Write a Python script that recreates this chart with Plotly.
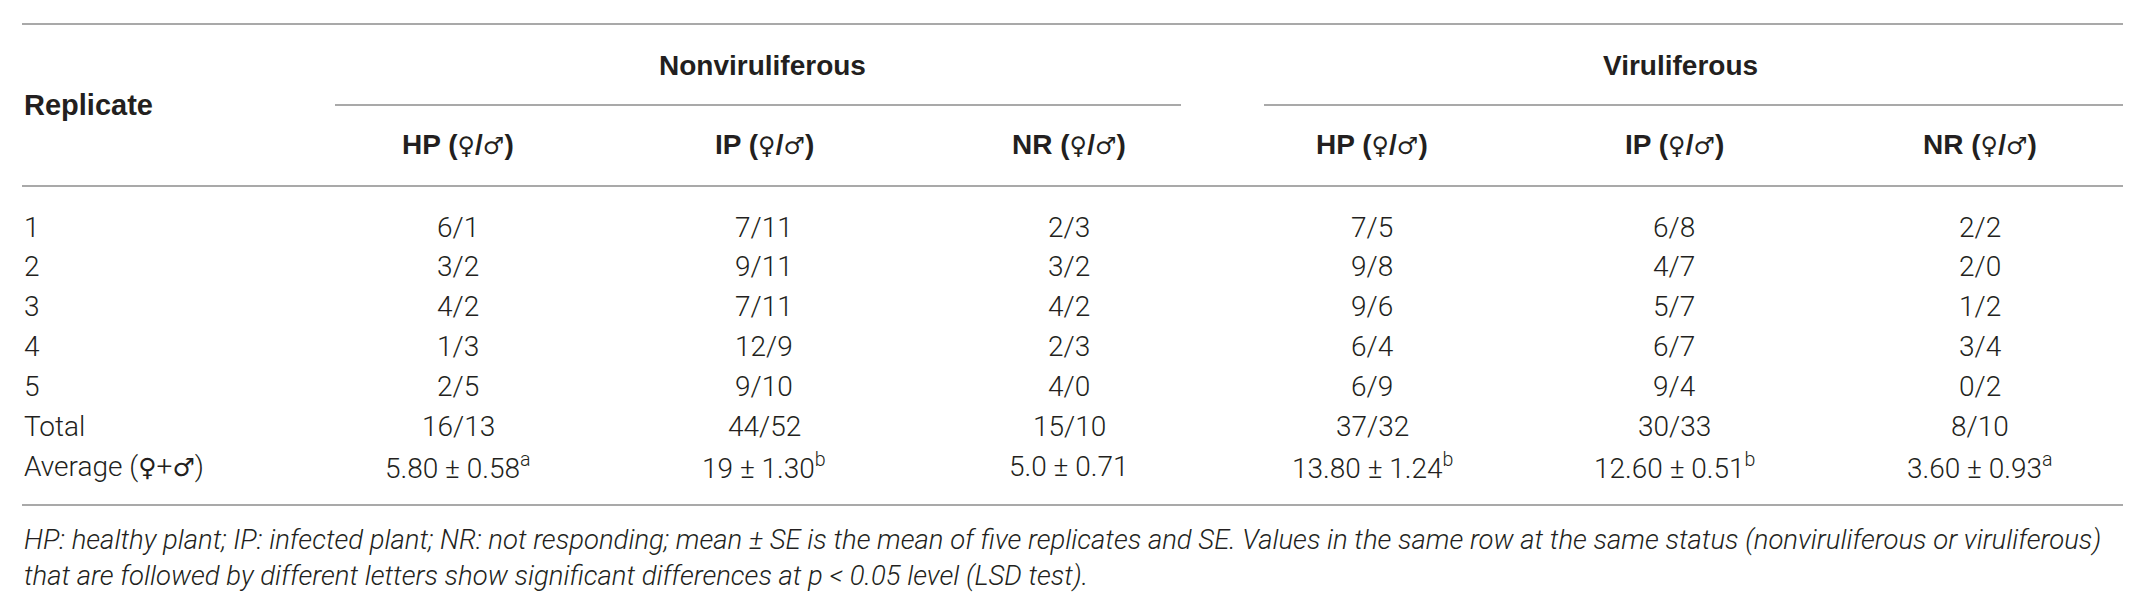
import plotly.graph_objects as go

# table content
groups = ["Nonviruliferous", "Viruliferous"]
sub_headers = ["HP (♀/♂)", "IP (♀/♂)", "NR (♀/♂)", "HP (♀/♂)", "IP (♀/♂)", "NR (♀/♂)"]
row_labels = ["1", "2", "3", "4", "5", "Total", "Average (♀+♂)"]

nonvir_hp = ["6/1", "3/2", "4/2", "1/3", "2/5", "16/13", "5.80 ± 0.58<sup>a</sup>"]
nonvir_ip = ["7/11", "9/11", "7/11", "12/9", "9/10", "44/52", "19 ± 1.30<sup>b</sup>"]
nonvir_nr = ["2/3", "3/2", "4/2", "2/3", "4/0", "15/10", "5.0 ± 0.71"]
vir_hp = ["7/5", "9/8", "9/6", "6/4", "6/9", "37/32", "13.80 ± 1.24<sup>b</sup>"]
vir_ip = ["6/8", "4/7", "5/7", "6/7", "9/4", "30/33", "12.60 ± 0.51<sup>b</sup>"]
vir_nr = ["2/2", "2/0", "1/2", "3/4", "0/2", "8/10", "3.60 ± 0.93<sup>a</sup>"]

footnote = [
    "HP: healthy plant; IP: infected plant; NR: not responding; mean ± SE is the mean of five replicates "
    "and SE. Values in the same row at the same status (nonviruliferous or viruliferous)",
    "that are followed by different letters show significant differences at <i>p</i> < 0.05 level (LSD test).",
]

columns = [nonvir_hp, nonvir_ip, nonvir_nr, vir_hp, vir_ip, vir_nr]

# layout (pixel positions on a 2133 x 599 canvas)
W, H = 2133, 599
col_x = [450, 756, 1061, 1364, 1666, 1972]
group_x = [754, 1672]
group_span = [(327, 1173), (1256, 2115)]
row_y = [219, 258, 298, 338, 378, 418, 458]
left, right = 14, 2115

BODY = "Roboto, Liberation Sans, DejaVu Sans"
BOLD = "Liberation Sans, Arial, DejaVu Sans"
INK = "#231f20"
RULE = "#8c8c8c"


def sym(txt, size, weight):
    # the sex symbols come from DejaVu so they keep a normal size
    for s in ("♀", "♂"):
        txt = txt.replace(
            s, f"<span style='font-family:DejaVu Sans;font-weight:{weight};font-size:{size}px'>{s}</span>")
    return txt


fig = go.Figure()
fig.add_trace(go.Scatter(x=[0, W], y=[0, H], mode="markers",
                         marker=dict(opacity=0), hoverinfo="skip", showlegend=False))

ann = []
# header texts
ann.append(dict(x=left, y=97, text="<b>Replicate</b>", xanchor="left",
                font=dict(family=BOLD, size=29, color=INK)))
for gx, g in zip(group_x, groups):
    ann.append(dict(x=gx, y=57, text=f"<b>{g}</b>", xanchor="center",
                    font=dict(family=BOLD, size=28, color=INK)))
for cx, h in zip(col_x, sub_headers):
    ann.append(dict(x=cx, y=136, text=f"<b>{sym(h, 24, 'normal')}</b>", xanchor="center",
                    font=dict(family=BOLD, size=28, color=INK)))

# body
for ry, lab in zip(row_y, row_labels):
    ann.append(dict(x=left, y=ry, text=sym(lab, 25, 'normal'), xanchor="left",
                    font=dict(family=BODY, size=28, color=INK, weight=300)))
for cx, col in zip(col_x, columns):
    for ry, val in zip(row_y, col):
        ann.append(dict(x=cx, y=ry, text=val, xanchor="center",
                        font=dict(family=BODY, size=28, color=INK, weight=300)))

# footnote
for fy, line in zip([531, 567], footnote):
    ann.append(dict(x=left, y=fy, text=f"<i>{line}</i>", xanchor="left",
                    font=dict(family=BODY, size=27.5, color=INK, weight=300)))

for a in ann:
    a.update(xref="x", yref="y", yanchor="middle", showarrow=False)

shapes = [
    dict(type="line", x0=left, x1=right, y0=16, y1=16),
    dict(type="line", x0=left, x1=right, y0=178, y1=178),
    dict(type="line", x0=left, x1=right, y0=497, y1=497),
]
for x0, x1 in group_span:
    shapes.append(dict(type="line", x0=x0, x1=x1, y0=97, y1=97))
for s in shapes:
    s.update(xref="x", yref="y", line=dict(color=RULE, width=1.5))

fig.update_layout(
    width=W, height=H,
    margin=dict(l=0, r=0, t=0, b=0),
    paper_bgcolor="white", plot_bgcolor="white",
    xaxis=dict(range=[0, W], visible=False, fixedrange=True),
    yaxis=dict(range=[H, 0], visible=False, fixedrange=True),
    annotations=ann, shapes=shapes,
    showlegend=False,
)

fig.write_html("out.html")
